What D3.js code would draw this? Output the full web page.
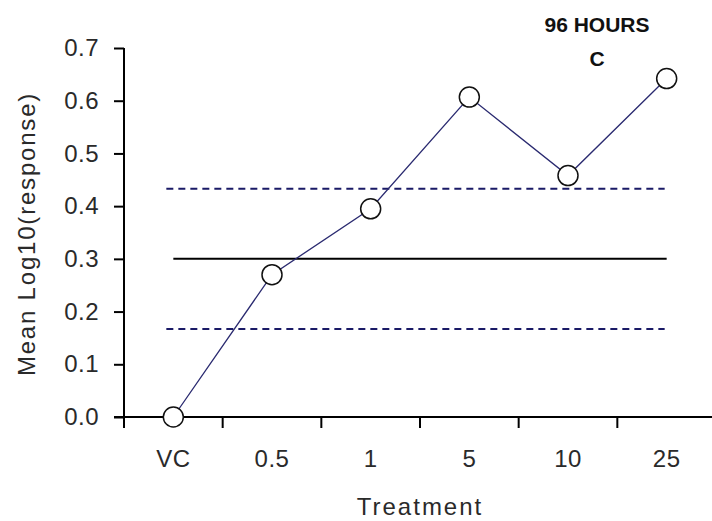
<!DOCTYPE html>
<html><head><meta charset="utf-8">
<script src="https://cdn.jsdelivr.net/npm/d3@7"></script>
<style>body{margin:0;background:#fff}text{font-family:"Liberation Sans",Arial,sans-serif}</style>
</head><body><svg id="c" width="712" height="521"></svg>
<script>
const categories = ["VC","0.5","1","5","10","25"];
const values = [0.0, 0.27, 0.395, 0.607, 0.458, 0.642];
const yTicks = [0.0,0.1,0.2,0.3,0.4,0.5,0.6,0.7];
const meanLine = 0.30;
const upperLine = 0.433;
const lowerLine = 0.167;
const titleLines = ["96 HOURS","C"];

const svg = d3.select("#c");
const x = d3.scaleBand().domain(categories).range([124, 716]);
const y = d3.scaleLinear().domain([0, 0.7]).range([417, 48]);
const cx = d => x(d) + x.bandwidth()/2;
const FONT = "Liberation Sans, Arial, sans-serif";

// y axis
const yAx = svg.append("g").attr("transform","translate(124,0)")
  .call(d3.axisLeft(y).tickValues(yTicks).tickFormat(d3.format(".1f")).tickSize(10).tickPadding(15));
yAx.select(".domain").attr("d","M0,48V428").attr("stroke","#000").attr("stroke-width",2);
yAx.selectAll(".tick line").attr("stroke","#000").attr("stroke-width",2);
yAx.selectAll(".tick text").attr("font-size",24).attr("fill","#2a2a2a").attr("font-family",FONT).attr("letter-spacing",0.5);

// x axis
const xAx = svg.append("g").attr("transform","translate(0,417)")
  .call(d3.axisBottom(x).tickSize(0).tickPadding(33));
xAx.select(".domain").attr("d","M114,0H712").attr("stroke","#000").attr("stroke-width",2);
xAx.selectAll(".tick text").attr("font-size",24).attr("fill","#2a2a2a").attr("font-family",FONT).attr("letter-spacing",0.5);
// boundary ticks between categories
svg.append("g").selectAll("line").data(categories.slice(1)).join("line")
  .attr("x1",d=>x(d)).attr("x2",d=>x(d)).attr("y1",417).attr("y2",428)
  .attr("stroke","#000").attr("stroke-width",2);

// reference lines
const x0 = cx(categories[0]) - 7, x1 = cx(categories[categories.length-1]) - 2;
svg.append("line").attr("x1",cx(categories[0])).attr("x2",cx(categories[categories.length-1])).attr("y1",y(meanLine)).attr("y2",y(meanLine))
  .attr("stroke","#000").attr("stroke-width",2);
[upperLine, lowerLine].forEach(v=>{
  svg.append("line").attr("x1",x0).attr("x2",x1).attr("y1",y(v)).attr("y2",y(v))
    .attr("stroke","#1a1a66").attr("stroke-width",2).attr("stroke-dasharray","7,5");
});

// data line
svg.append("path").datum(values)
  .attr("d", d3.line().x((d,i)=>cx(categories[i])).y(d=>y(d)))
  .attr("fill","none").attr("stroke","#2a2a70").attr("stroke-width",1.3);
svg.append("g").selectAll("circle").data(values).join("circle")
  .attr("cx",(d,i)=>cx(categories[i])).attr("cy",d=>y(d)).attr("r",10)
  .attr("fill","#fff").attr("stroke","#111").attr("stroke-width",1.5);

// title
svg.append("g").selectAll("text").data(titleLines).join("text")
  .attr("x",597).attr("y",(d,i)=>32+i*34).attr("text-anchor","middle")
  .attr("font-size",21).attr("font-weight","bold").attr("fill","#111").text(d=>d);

// axis labels
svg.append("text").attr("x",420).attr("y",515).attr("text-anchor","middle")
  .attr("font-size",24).attr("letter-spacing",2).attr("fill","#2a2a2a").text("Treatment");
svg.append("text").attr("transform","translate(35,234) rotate(-90)").attr("text-anchor","middle")
  .attr("font-size",24).attr("letter-spacing",1.8).attr("fill","#2a2a2a").text("Mean Log10(response)");
</script></body></html>
